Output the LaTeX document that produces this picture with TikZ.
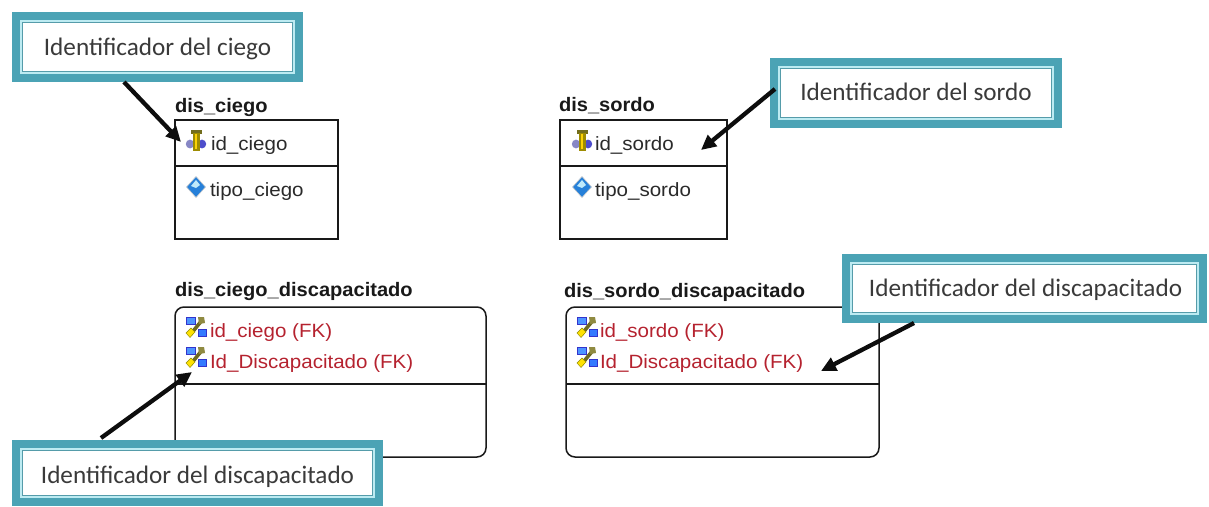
\documentclass[tikz,border=0pt]{standalone}
\usepackage{fontspec}
\usetikzlibrary{calc,arrows.meta}
\setmainfont{Liberation Sans}
\newfontfamily\rowfont[FakeStretch=1.07]{Liberation Sans}
\newfontfamily\headfont[FakeStretch=1.03]{Liberation Sans}
\newfontfamily\notefont{Carlito}
\definecolor{bandteal}{HTML}{4BA3B5}
\definecolor{palecyan}{HTML}{BDEBF2}
\definecolor{rowred}{HTML}{B5222F}
\definecolor{rowink}{HTML}{2A2A2A}
\definecolor{noteink}{HTML}{3A3A3A}
\tikzset{
  every node/.style={inner sep=0pt,outer sep=0pt},
  tablebox/.style={draw=black!90,line width=1.5pt,rectangle,anchor=north west},
  roundbox/.style={tablebox,rounded corners=9pt},
  splitline/.style={draw=black!90,line width=1.5pt},
  title/.style={anchor=west,font=\headfont\bfseries\fontsize{19.5}{22}\selectfont,text=black!90},
  pkrow/.style={anchor=west,font=\rowfont\fontsize{19.2}{22}\selectfont,text=rowink},
  fkrow/.style={anchor=west,font=\rowfont\fontsize{19.2}{22}\selectfont,text=rowred},
  callout/.style={anchor=north west,rectangle,fill=bandteal,font=\notefont\fontsize{25.2}{28}\selectfont,text=noteink,
    path picture={
      \fill[palecyan] ($(path picture bounding box.south west)+(8pt,8pt)$) rectangle ($(path picture bounding box.north east)+(-8pt,-8pt)$);
      \fill[bandteal!80!gray] ($(path picture bounding box.south west)+(9.7pt,9.7pt)$) rectangle ($(path picture bounding box.north east)+(-9.7pt,-9.7pt)$);
      \fill[white] ($(path picture bounding box.south west)+(10.7pt,10.7pt)$) rectangle ($(path picture bounding box.north east)+(-10.7pt,-10.7pt)$);
    }},
  pointer/.style={-{Triangle[length=15pt,width=14pt]},line width=4.3pt,black!95},
  pkicon/.pic={
    \fill[blue!35!gray!70] (-6,3) ellipse [x radius=4.2pt,y radius=4.4pt];
    \fill[blue!55!gray!90] (6,3) ellipse [x radius=4.2pt,y radius=4.4pt];
    \fill[olive!75!black] (-5.5,-11) rectangle (5.5,-7);
    \fill[olive!85!orange] (-3,-8) rectangle (3.5,10);
    \fill[yellow!70!orange] (-1.2,-7) rectangle (1.4,8);
  },
  attricon/.pic={
    \fill[blue!50!cyan!70!gray,draw=gray!40,line width=.6pt] (-9.5,0) -- (0,-10.5) -- (9.5,0) -- (0,10.5) -- cycle;
    \fill[cyan!25!white] (-5,-1) -- (0,-7) -- (4,-2) -- (0,1) -- cycle;
  },
  fkicon/.pic={
    \draw[olive!70!black,line width=3.6pt] (-6,8) -- (7,-8);
    \fill[blue!60!cyan!70,draw=blue!60!gray,line width=.5pt] (-10,-10) rectangle (-1,-3);
    \fill[blue!65!cyan!80,draw=blue!60!gray,line width=.5pt] (2,2) rectangle (10.5,9);
    \fill[yellow!85!orange,draw=olive,line width=.4pt] (-10,6) -- (-5,1) -- (-1,5) -- (-6,10.5) -- cycle;
    \fill[olive!55!gray] (2,-10) -- (8,-10) -- (9,-4) -- (3,-3) -- cycle;
  }
}
\begin{document}
\begin{tikzpicture}[x=1pt,y=-1pt]
\useasboundingbox (0,0) rectangle (1209,506);

% tables
\node[tablebox,minimum width=163pt,minimum height=119pt] (t1) at (175,120) {};
\node[tablebox,minimum width=167pt,minimum height=119pt] (t2) at (560,120) {};
\node[roundbox,minimum width=311pt,minimum height=150pt] (t3) at (175,307) {};
\node[roundbox,minimum width=313pt,minimum height=150pt] (t4) at (566,307) {};

\draw[splitline] (t1.west |- 0,166) -- (t1.east |- 0,166);
\draw[splitline] (t2.west |- 0,166) -- (t2.east |- 0,166);
\draw[splitline] (t3.west |- 0,384) -- (t3.east |- 0,384);
\draw[splitline] (t4.west |- 0,384) -- (t4.east |- 0,384);

% titles
\node[title] (h1) at (175,107) {dis\_ciego};
\node[title] (h2) at (559,106) {dis\_sordo};
\node[title] (h3) at (175,291) {dis\_ciego\_discapacitado};
\node[title] (h4) at (564,292) {dis\_sordo\_discapacitado};

% rows
\pic at (196,141) {pkicon};
\node[pkrow] (r11) at (211,146) {id\_ciego};
\pic at (196,187) {attricon};
\node[pkrow] (r12) at (210,192) {tipo\_ciego};
\pic at (582,141) {pkicon};
\node[pkrow] (r21) at (595,145) {id\_sordo};
\pic at (582,187) {attricon};
\node[pkrow] (r22) at (595,192) {tipo\_sordo};
\pic at (196,327) {fkicon};
\node[fkrow] (r31) at (210,333) {id\_ciego (FK)};
\pic at (196,357) {fkicon};
\node[fkrow] (r32) at (210,364) {Id\_Discapacitado (FK)};
\pic at (587,327) {fkicon};
\node[fkrow] (r41) at (600,333) {id\_sordo (FK)};
\pic at (587,357) {fkicon};
\node[fkrow] (r42) at (600,364) {Id\_Discapacitado (FK)};

% callouts
\node[callout,minimum width=291pt,minimum height=70pt] (c1) at (12,12) {\raisebox{-2pt}[\height][\depth]{Identificador del ciego}};
\node[callout,minimum width=292pt,minimum height=70pt] (c2) at (770,58) {\raisebox{1pt}[\height][\depth]{Identificador del sordo}};
\node[callout,minimum width=371pt,minimum height=66pt] (c3) at (12,440) {\raisebox{-4pt}[\height][\depth]{Identificador del discapacitado}};
\node[callout,minimum width=365pt,minimum height=69pt] (c4) at (842,254) {\hspace{2pt}\raisebox{-1pt}[\height][\depth]{Identificador del discapacitado}};

% pointer ends
\coordinate (p1) at (181,142);
\coordinate (p2) at (701,150);
\coordinate (p3) at (192,372);
\coordinate (p4) at (821,371);

\draw[pointer] ($(c1.south west)+(112pt,0pt)$) -- (p1);
\draw[pointer] ($(c2.west)+(5pt,4pt)$) -- (p2);
\draw[pointer] ($(c3.north west)+(89pt,2pt)$) -- (p3);
\draw[pointer] ($(c4.south west)+(72pt,0pt)$) -- (p4);
\end{tikzpicture}
\end{document}
